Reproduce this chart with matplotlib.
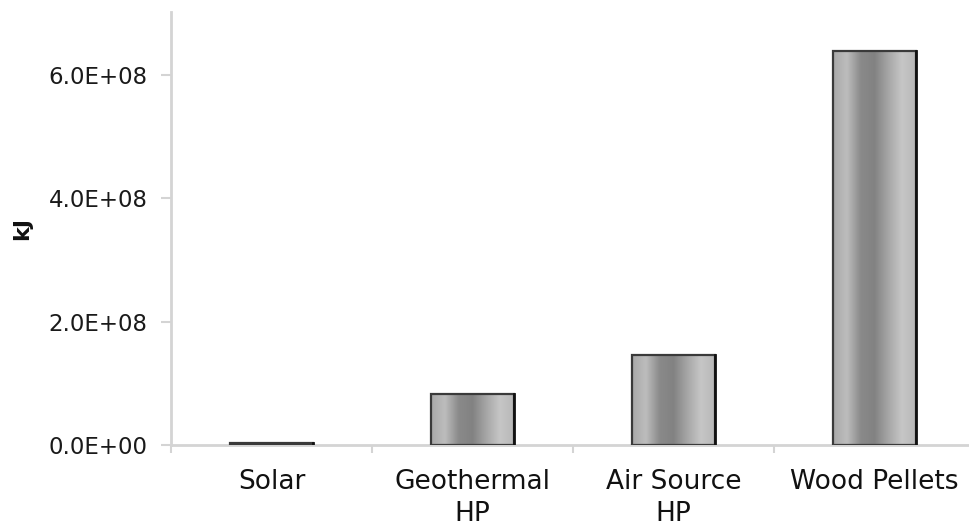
import numpy as np
import matplotlib
matplotlib.use("Agg")
import matplotlib.pyplot as plt
from matplotlib.patches import Rectangle
from matplotlib.colors import LinearSegmentedColormap

# data
categories = ["Solar", "Geothermal\nHP", "Air Source\nHP", "Wood Pellets"]
values_kj = [3.0e6, 8.2e7, 1.46e8, 6.39e8]
y_ticks = [0, 2e8, 4e8, 6e8]
y_tick_labels = ["0.0E+00", "2.0E+08", "4.0E+08", "6.0E+08"]

plt.rcParams["font.family"] = ["DejaVu Sans"]

fig = plt.figure(figsize=(9.7, 5.25), dpi=100)
ax = fig.add_axes([0.1763, 0.1524, 0.8289, 0.8248])

AXIS_GRAY = "#d4d4d4"
BAR_W = 0.41

# cylinder-style shading across each bar
shade = LinearSegmentedColormap.from_list(
    "cyl", ["#a8a8a8", "#bdbdbd", "#8a8a8a", "#828282", "#a6a6a6", "#c6c6c6", "#b8b8b8"])
grad = np.linspace(0, 1, 256).reshape(1, -1)

x = np.arange(len(categories))
bars = ax.bar(x, values_kj, width=BAR_W, color="none", edgecolor="none", zorder=3)
for b in bars:
    x0, y0, w, h = b.get_x(), b.get_y(), b.get_width(), b.get_height()
    ax.imshow(grad, cmap=shade, aspect="auto", extent=(x0, x0 + w, y0, y0 + h),
              zorder=2, interpolation="bicubic")
    ax.add_patch(Rectangle((x0, y0), w, h, fill=False, edgecolor="#3a3a3a",
                           linewidth=1.6, zorder=4))
    # darker shadow on the right edge
    ax.plot([x0 + w, x0 + w], [y0, y0 + h], color="#111111", lw=2.0, zorder=5)

ax.set_xlim(-0.5, len(categories) - 0.5)
ax.set_ylim(0, 7.02e8)

ax.set_yticks(y_ticks)
ax.set_yticklabels(y_tick_labels, fontsize=16.5, color="#1a1a1a")
ax.set_xticks(x)
ax.set_xticklabels(categories, fontsize=19, color="#111111", linespacing=1.3)
ax.tick_params(axis="x", length=0, pad=17)
ax.set_xticks(np.arange(-0.5, len(categories), 1.0), minor=True)
ax.tick_params(axis="x", which="minor", length=6, color=AXIS_GRAY, width=1.5)
ax.tick_params(axis="y", length=7, color=AXIS_GRAY, width=1.5, pad=10)

fig.text(22 / 970, 1 - 228 / 525, "kJ", rotation=90, ha="center", va="center",
         fontsize=16, fontweight="bold", color="#111111")

for side in ["top", "right"]:
    ax.spines[side].set_visible(False)
for side in ["left", "bottom"]:
    ax.spines[side].set_color(AXIS_GRAY)
    ax.spines[side].set_linewidth(2)

fig.savefig("out.png", dpi=100, facecolor="white")
